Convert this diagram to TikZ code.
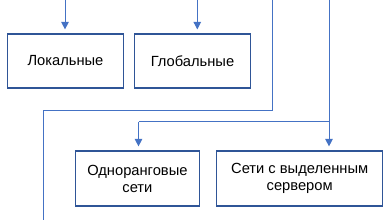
\documentclass[tikz,border=0pt]{standalone}
\usepackage{fontspec}
\setmainfont{Liberation Sans}
\usetikzlibrary{arrows.meta}
\definecolor{boxblue}{HTML}{2F5597}
\definecolor{lineblue}{HTML}{4472C4}
\begin{document}
\begin{tikzpicture}[x=1pt,y=-1pt,
  box/.style={draw=boxblue,line width=1.2pt,align=center,inner sep=0pt,
    font=\fontsize{14.7}{17}\selectfont},
  conn/.style={draw=lineblue,line width=1pt},
  arr/.style={conn,-{Triangle[width=7.5pt,length=7.5pt]},shorten >=4pt}]
\useasboundingbox (0,0) rectangle (390,220);
\node[box,minimum width=116pt,minimum height=54pt] (lok) at (65.5,61) {Локальные};
\node[box,minimum width=116.4pt,minimum height=54pt] (glob) at (192.5,61) {Глобальные};
\node[box,minimum width=124pt,minimum height=55pt] (odn) at (137.4,178.5) {Одноранговые\\сети};
\node[box,minimum width=166pt,minimum height=55pt] (ser) at (299.7,178.5) {Сети с выделенным\\сервером};
\coordinate (t1) at (65,0);
\coordinate (t2) at (197.3,0);
\draw[arr] (t1) -- (t1 |- lok.north);
\draw[arr] (t2) -- (t2 |- glob.north);
\coordinate (a1) at (272.3,0);
\coordinate (a2) at (272.3,110.5);
\coordinate (a3) at (43,110.5);
\coordinate (a4) at (43,220);
\draw[conn] (a1) -- (a2) -- (a3) -- (a4);
\coordinate (b1) at (329,0);
\coordinate (b2) at (329,121.5);
\coordinate (b3) at (138.5,121.5);
\draw[conn] (b1) -- (b2) -- (b3);
\draw[arr] (b3) -- (b3 |- odn.north);
\draw[arr] (b2) -- (b2 |- ser.north);
\end{tikzpicture}
\end{document}
